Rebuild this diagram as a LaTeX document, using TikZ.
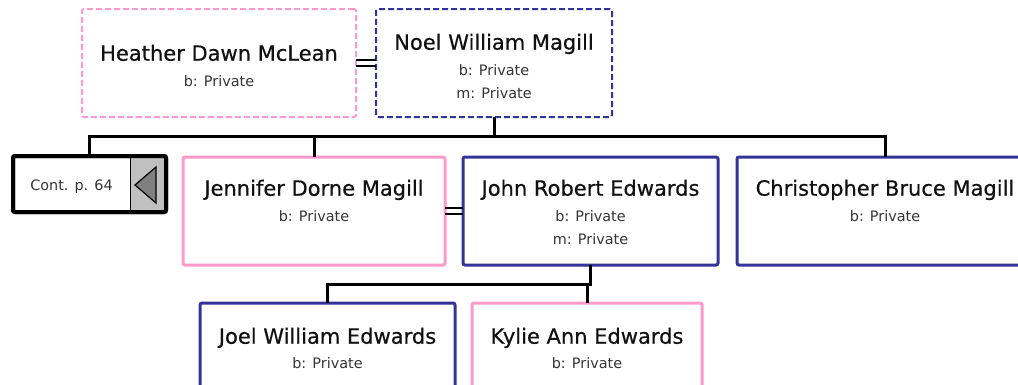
\documentclass[tikz,border=0pt]{standalone}
\usepackage{fontspec}
\setmainfont{DejaVu Sans}
\newfontfamily\namefont[FakeBold=0.5]{DejaVu Sans}
\definecolor{kpink}{HTML}{FF99CC}
\definecolor{knavy}{HTML}{333399}
\definecolor{ktext}{HTML}{111111}
\definecolor{kgrey}{HTML}{C0C0C0}
\definecolor{kdark}{HTML}{808080}
\tikzset{
  boxbase/.style={inner sep=0pt, outer sep=0pt, rounded corners=2pt, fill=white},
  fbox/.style={boxbase, draw=kpink, line width=3pt},
  mbox/.style={boxbase, draw=knavy, line width=3pt},
  fdash/.style={boxbase, draw=kpink, line width=2pt, dash pattern=on 6pt off 3pt},
  mdash/.style={boxbase, draw=knavy, line width=2pt, dash pattern=on 6pt off 3pt},
  contbox/.style={boxbase, draw=black, line width=4pt},
  conn/.style={draw=black, line width=3pt},
  marr/.style={draw=black, line width=2.5pt},
  nm/.style={inner sep=0pt, anchor=base, text=ktext, font=\namefont\fontsize{21}{25}\selectfont},
  dt/.style={inner sep=0pt, anchor=base, text=ktext!85, font=\fontsize{14.4}{17}\selectfont},
}
\begin{document}
\begin{tikzpicture}[x=1pt,y=-1pt]
\fill[white] (0,0) rectangle (1018,384);
\useasboundingbox (0,0) rectangle (1018,384);

% boxes
\node[fdash, minimum width=274pt, minimum height=108pt] (heather) at (219,63) {};
\node[mdash, minimum width=236pt, minimum height=108pt] (noel) at (494,63) {};
\node[fbox, minimum width=262pt, minimum height=108pt] (jen) at (314,211) {};
\node[mbox, minimum width=255pt, minimum height=108pt] (john) at (590.5,211) {};
\node[mbox, minimum width=296pt, minimum height=108pt] (chris) at (885,211) {};
\node[mbox, minimum width=255pt, minimum height=108pt] (joel) at (327.5,357) {};
\node[fbox, minimum width=230pt, minimum height=108pt] (kylie) at (587,357) {};

% continuation box
\node[contbox, minimum width=153pt, minimum height=56pt] (cont) at (89.5,184) {};
\fill[kgrey] (130,158) rectangle (164,210);
\draw[black, line width=1pt] (130,158) -- (130,210);
\draw[contbox, fill=none] (13,156) rectangle (166,212);
\fill[kdark] (135,185) -- (156,167) -- (156,203) -- cycle;
\draw[black, line width=1.2pt, line join=miter] (135,185) -- (156,167) -- (156,203) -- cycle;
\node[dt] (contT) at (71.5,190.3) {Cont. p. 64};

% texts
\node[nm] (heatherN) at (219,60.7) {Heather Dawn McLean};
\node[dt] (heatherB) at (219,86.3) {b: Private};

\node[nm] (noelN) at (494,49.7) {Noel William Magill};
\node[dt] (noelB) at (494,75.3) {b: Private};
\node[dt] (noelM) at (494,98.3) {m: Private};

\node[nm] (jenN) at (314,195.7) {Jennifer Dorne Magill};
\node[dt] (jenB) at (314,221.3) {b: Private};

\node[nm] (johnN) at (590.5,195.7) {John Robert Edwards};
\node[dt] (johnB) at (590.5,221.3) {b: Private};
\node[dt] (johnM) at (590.5,244.3) {m: Private};

\node[nm] (chrisN) at (885,195.7) {Christopher Bruce Magill};
\node[dt] (chrisB) at (885,221.3) {b: Private};

\node[nm] (joelN) at (327.5,343.7) {Joel William Edwards};
\node[dt] (joelB) at (327.5,368.3) {b: Private};

\node[nm] (kylieN) at (587,343.7) {Kylie Ann Edwards};
\node[dt] (kylieB) at (587,368.3) {b: Private};

% connectors
\coordinate (bar1) at (0,136.5);
\coordinate (bar2) at (0,284);
\draw[conn] (noel.south) -- (noel.south |- bar1);
\draw[conn] ([yshift=-2pt]cont.north) |- (chris.north |- bar1) -- (chris.north);
\draw[conn] (jen.north) -- (jen.north |- bar1);
\draw[conn] (john.south) -- (john.south |- bar2) -| (joel.north);
\draw[conn] (kylie.north) -- (kylie.north |- bar2);

% marriages
\draw[marr] ([yshift=3pt]heather.east) -- ([yshift=3pt]noel.west);
\draw[marr] ([yshift=-3pt]heather.east) -- ([yshift=-3pt]noel.west);
\draw[marr] ([yshift=3pt]jen.east) -- ([yshift=3pt]john.west);
\draw[marr] ([yshift=-3pt]jen.east) -- ([yshift=-3pt]john.west);
\end{tikzpicture}
\end{document}
